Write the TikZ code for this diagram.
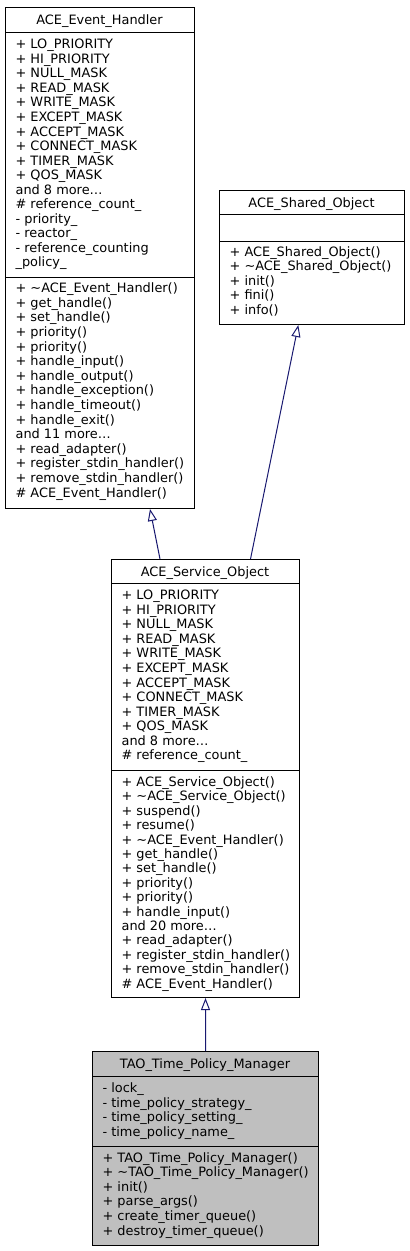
\documentclass[tikz,border=0pt]{standalone}
\usepackage{fontspec}
\setmainfont{DejaVu Sans}
\usepackage{tikz}
\usetikzlibrary{arrows.meta,positioning}
\definecolor{edgeblue}{HTML}{191970}
\definecolor{boxgray}{HTML}{BFBFBF}
\tikzset{
  classbox/.style={draw=black, line width=1bp, inner sep=0pt, anchor=north west},
  member/.style={inner sep=0pt, anchor=base west},
  classname/.style={inner sep=0pt, anchor=base},
  inherit/.style={draw=edgeblue, line width=1bp, -{Triangle[open,length=12bp,width=9bp]}}
}

\begin{document}
\begin{tikzpicture}[x=1bp,y=-1bp,font=\fontsize{12.9bp}{14.6bp}\selectfont]
\useasboundingbox (0,0) rectangle (409,1251);

% ACE_Event_Handler
\node[classbox, minimum width=189bp, minimum height=501bp] (handler) at (5,7) {};
\draw[line width=1bp] (5,32) -- (194,32);
\draw[line width=1bp] (5,277) -- (194,277);
\node[classname] (handlername) at (99.5,24) {ACE\_Event\_Handler};
\foreach \t [count=\i from 0] in {+ LO\_PRIORITY, + HI\_PRIORITY, + NULL\_MASK, + READ\_MASK,
  + WRITE\_MASK, + EXCEPT\_MASK, + ACCEPT\_MASK, + CONNECT\_MASK, + TIMER\_MASK, + QOS\_MASK,
  and 8 more\dots, \# reference\_count\_, - priority\_, - reactor\_, - reference\_counting, \_policy\_}
  \node[member] (hattr\i) at (15.4,48.7+14.55*\i) {\t};
\foreach \t [count=\i from 0] in {+ \textasciitilde ACE\_Event\_Handler(), + get\_handle(), + set\_handle(),
  + priority(), + priority(), + handle\_input(), + handle\_output(), + handle\_exception(),
  + handle\_timeout(), + handle\_exit(), and 11 more\dots, + read\_adapter(),
  + register\_stdin\_handler(), + remove\_stdin\_handler(), \# ACE\_Event\_Handler()}
  \node[member] (hop\i) at (15.4,292.7+14.6*\i) {\t};

% ACE_Shared_Object
\node[classbox, minimum width=185bp, minimum height=134bp] (shared) at (219,190) {};
\draw[line width=1bp] (219,214) -- (404,214);
\draw[line width=1bp] (219,241) -- (404,241);
\node[classname] (sharedname) at (311.5,207) {ACE\_Shared\_Object};
\foreach \t [count=\i from 0] in {+ ACE\_Shared\_Object(), + \textasciitilde ACE\_Shared\_Object(),
  + init(), + fini(), + info()}
  \node[member] (sop\i) at (229.4,256.5+14.4*\i) {\t};

% ACE_Service_Object
\node[classbox, minimum width=188bp, minimum height=438bp] (service) at (111,559) {};
\draw[line width=1bp] (111,583) -- (299,583);
\draw[line width=1bp] (111,770) -- (299,770);
\node[classname] (servicename) at (205,576) {ACE\_Service\_Object};
\foreach \t [count=\i from 0] in {+ LO\_PRIORITY, + HI\_PRIORITY, + NULL\_MASK, + READ\_MASK,
  + WRITE\_MASK, + EXCEPT\_MASK, + ACCEPT\_MASK, + CONNECT\_MASK, + TIMER\_MASK, + QOS\_MASK,
  and 8 more\dots, \# reference\_count\_}
  \node[member] (vattr\i) at (121.4,599.7+14.55*\i) {\t};
\foreach \t [count=\i from 0] in {+ ACE\_Service\_Object(), + \textasciitilde ACE\_Service\_Object(),
  + suspend(), + resume(), + \textasciitilde ACE\_Event\_Handler(), + get\_handle(), + set\_handle(),
  + priority(), + priority(), + handle\_input(), and 20 more\dots, + read\_adapter(),
  + register\_stdin\_handler(), + remove\_stdin\_handler(), \# ACE\_Event\_Handler()}
  \node[member] (vop\i) at (121.4,786.5+14.4*\i) {\t};

% TAO_Time_Policy_Manager
\node[classbox, fill=boxgray, minimum width=226bp, minimum height=194bp] (tao) at (92,1051) {};
\draw[line width=1bp] (92,1076) -- (318,1076);
\draw[line width=1bp] (92,1146) -- (318,1146);
\node[classname] (taoname) at (205,1068) {TAO\_Time\_Policy\_Manager};
\foreach \t [count=\i from 0] in {- lock\_, - time\_policy\_strategy\_, - time\_policy\_setting\_,
  - time\_policy\_name\_}
  \node[member] (tattr\i) at (102.4,1092.3+14.8*\i) {\t};
\foreach \t [count=\i from 0] in {+ TAO\_Time\_Policy\_Manager(), + \textasciitilde TAO\_Time\_Policy\_Manager(),
  + init(), + parse\_args(), + create\_timer\_queue(), + destroy\_timer\_queue()}
  \node[member] (top\i) at (102.4,1162+14.6*\i) {\t};

% inheritance
\draw[inherit] ([xshift=49bp]service.north west) -- ([xshift=145bp]handler.south west);
\draw[inherit] ([xshift=139.5bp]service.north west) -- ([xshift=79.3bp]shared.south west);
\draw[inherit] (tao.north) -- (service.south);

\end{tikzpicture}
\end{document}
